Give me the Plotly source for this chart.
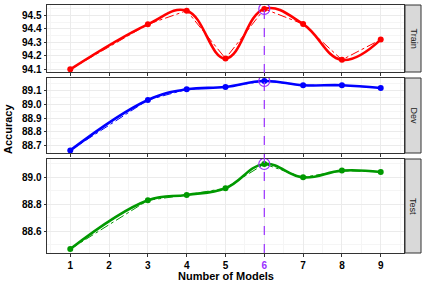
import plotly.graph_objects as go

models = [1, 3, 4, 5, 6, 7, 8, 9]
train = [94.10, 94.433, 94.534, 94.18, 94.547, 94.435, 94.17, 94.32]
dev = [88.663, 89.032, 89.110, 89.127, 89.171, 89.140, 89.140, 89.120]
test = [88.469, 88.830, 88.870, 88.920, 89.099, 89.000, 89.050, 89.040]
panels = ["Train", "Dev", "Test"]
colors = ["#FF0000", "#0000FF", "#009900"]
best_model = 6
x_ticks = [1, 2, 3, 4, 5, 6, 7, 8, 9]

W, H = 427, 285
purple = "#9B30FF"
series = [train, dev, test]
# panel pixel extents (top, bottom)
pix = [(5, 72), (78, 153), (159, 253)]
ranges = [(94.08, 94.576), (88.644, 89.193), (88.44, 89.136)]
ticks = [[94.1, 94.2, 94.3, 94.4, 94.5], [88.7, 88.8, 88.9, 89.0, 89.1], [88.6, 88.8, 89.0]]
minor = [0.05, 0.05, 0.1]
x0p, x1p = 47, 404

fig = go.Figure()
layout = dict(template="none", width=W, height=H, margin=dict(l=0, r=0, t=0, b=0, pad=0),
              plot_bgcolor="white", paper_bgcolor="white", showlegend=False,
              font=dict(family="Liberation Sans, Arial, sans-serif", color="#000000"))
shapes = []
annotations = []
for i, (name, vals, col) in enumerate(zip(panels, series, colors)):
    k = i + 1
    xa = "x" if k == 1 else f"x{k}"
    ya = "y" if k == 1 else f"y{k}"
    fig.add_trace(go.Scatter(x=models, y=vals, mode="lines", xaxis=xa, yaxis=ya,
                             line=dict(color=col, width=1, dash="dashdot")))
    fig.add_trace(go.Scatter(x=models, y=vals, mode="lines+markers", xaxis=xa, yaxis=ya,
                             line=dict(color=col, width=2.6, shape="spline", smoothing=1.2),
                             marker=dict(color=col, size=6)))
    bi = models.index(best_model)
    fig.add_trace(go.Scatter(x=[best_model], y=[vals[bi]], mode="markers", xaxis=xa, yaxis=ya,
                             marker=dict(symbol="circle-open", color=purple, size=11,
                                         line=dict(width=1.2, color=purple))))
    top, bot = pix[i]
    dom = [1 - bot / H, 1 - top / H]
    tick_text = []
    for t in x_ticks:
        if t == best_model:
            tick_text.append(f"<span style='color:{purple}'><b>{t}</b></span>")
        else:
            tick_text.append(f"<b>{t}</b>")
    axx = dict(
        domain=[x0p / W, x1p / W], range=[0.4, 9.6], anchor=ya, automargin=False,
        showgrid=True, gridcolor="#EBEBEB", gridwidth=1,
        minor=dict(dtick=0.5, tick0=0.5, showgrid=True, gridcolor="#F5F5F5", gridwidth=0.5, ticks=""),
        showline=True, mirror=True, linecolor="#333333", linewidth=1,
        ticks="outside", ticklen=2.5, tickcolor="#333333", zeroline=False,
        tickfont=dict(size=10, color="#000000"),
        tickvals=x_ticks,
    )
    if k == 3:
        axx["ticktext"] = tick_text
    else:
        axx["showticklabels"] = False
    layout["xaxis" if k == 1 else f"xaxis{k}"] = axx
    layout["yaxis" if k == 1 else f"yaxis{k}"] = dict(
        domain=dom, range=list(ranges[i]), anchor=xa, automargin=False,
        tickvals=ticks[i], ticktext=[f"<b>{t:.1f}</b>" for t in ticks[i]],
        showgrid=True, gridcolor="#EBEBEB", gridwidth=1,
        minor=dict(dtick=minor[i], showgrid=True, gridcolor="#F5F5F5", gridwidth=0.5, ticks=""),
        showline=True, mirror=True, linecolor="#333333", linewidth=1,
        ticks="outside", ticklen=2.5, tickcolor="#333333", zeroline=False,
        tickfont=dict(size=10, color="#000000"),
    )
    # strip
    shapes.append(dict(type="rect", xref="paper", yref="paper",
                       x0=405 / W, x1=421 / W, y0=dom[0], y1=dom[1],
                       fillcolor="#D9D9D9", line=dict(color="#333333", width=1), layer="above"))
    annotations.append(dict(text=name, xref="paper", yref="paper", x=413 / W, y=(dom[0] + dom[1]) / 2,
                            showarrow=False, textangle=90, font=dict(size=9, color="#1A1A1A"),
                            xanchor="center", yanchor="middle"))

shapes.append(dict(type="line", xref="x3", yref="paper", x0=best_model, x1=best_model,
                   y0=1 - pix[2][1] / H, y1=1 - pix[0][0] / H,
                   line=dict(color=purple, width=1.2, dash="dash"), layer="above"))
annotations.append(dict(text="<b>Number of Models</b>", xref="paper", yref="paper",
                        x=(x0p + x1p) / 2 / W, y=1 - 276 / H, showarrow=False,
                        font=dict(size=11), xanchor="center", yanchor="middle"))
annotations.append(dict(text="<b>Accuracy</b>", xref="paper", yref="paper",
                        x=8 / W, y=1 - 129 / H, showarrow=False, textangle=-90,
                        font=dict(size=11), xanchor="center", yanchor="middle"))
layout["shapes"] = shapes
layout["annotations"] = annotations
fig.update_layout(**layout)
fig.write_html("out.html", config={"displayModeBar": False},
               post_script="document.body.style.margin='0';document.body.style.overflow='hidden';")
